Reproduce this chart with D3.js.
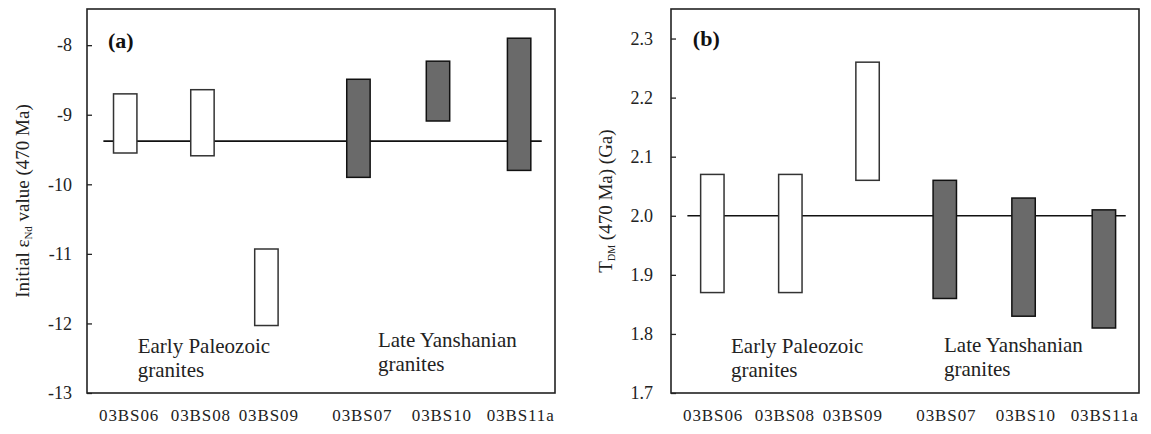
<!DOCTYPE html>
<html>
<head>
<meta charset="utf-8">
<script src="https://cdn.jsdelivr.net/npm/d3@7/dist/d3.min.js"></script>
<style>
  body { margin: 0; background: #fff; }
  svg { display: block; }
  .tick line { stroke: #222; stroke-width: 1.3; }
</style>
</head>
<body>
<div id="chart"></div>
<script>
// sample names and where their labels sit (in sample slots)
const samples = ["03BS06", "03BS08", "03BS09", "03BS07", "03BS10", "03BS11a"];
const groups = ["early", "early", "early", "late", "late", "late"];
const labelPos = [0.54, 1.46, 2.33, 3.53, 4.55, 5.56];

// (a) initial eps Nd at 470 Ma
const epsPos = [0.49, 1.48, 2.30, 3.48, 4.50, 5.54];
const epsHigh = [-8.70, -8.64, -10.93, -8.49, -8.23, -7.90];
const epsLow = [-9.55, -9.59, -12.03, -9.90, -9.09, -9.80];
const epsRef = -9.38;
const epsTicks = [-8, -9, -10, -11, -12, -13];

// (b) T_DM (470 Ma)
const tdmPos = [0.53, 1.53, 2.52, 3.51, 4.52, 5.55];
const tdmHigh = [2.07, 2.07, 2.26, 2.06, 2.03, 2.01];
const tdmLow = [1.87, 1.87, 2.06, 1.86, 1.83, 1.81];
const tdmRef = 2.0;
const tdmTicks = [2.3, 2.2, 2.1, 2.0, 1.9, 1.8, 1.7];

const W = 1151, H = 434;
const SERIF = "'Liberation Serif', 'Times New Roman', serif";

const svg = d3.select("#chart").append("svg")
  .attr("xmlns", "http://www.w3.org/2000/svg")
  .attr("width", W)
  .attr("height", H)
  .attr("font-family", SERIF);

function drawPanel(cfg) {
  const { left, top = 9, width = 468, height = 384 } = cfg;

  const x = d3.scaleLinear().domain([0, 6]).range([0, width]);
  const y = d3.scaleLinear().domain(cfg.domain).range([height, 0]);

  const g = svg.append("g").attr("transform", `translate(${left},${top})`);

  // y axis, ticks pointing inward
  const axis = d3.axisLeft(y)
    .tickValues(cfg.ticks)
    .tickFormat(cfg.format)
    .tickSizeInner(-5)
    .tickSizeOuter(0)
    .tickPadding(cfg.pad);
  g.append("g").attr("class", "y-axis").call(axis)
    .attr("font-family", SERIF)
    .attr("font-size", 18)
    .call(s => s.select(".domain").remove())
    .call(s => s.selectAll(".tick text").attr("fill", "#222"));

  // reference line
  g.append("line")
    .attr("x1", x(0.21)).attr("x2", x(5.83))
    .attr("y1", y(cfg.ref)).attr("y2", y(cfg.ref))
    .attr("stroke", "#111").attr("stroke-width", 1.6);

  // range bars
  const bw = x(0.3) - x(0);
  g.selectAll(".bar")
    .data(samples.map((s, i) => ({ s, pos: cfg.pos[i], hi: cfg.high[i], lo: cfg.low[i], grp: groups[i] })))
    .enter()
    .append("rect")
    .attr("class", "bar")
    .attr("x", d => x(d.pos) - bw / 2)
    .attr("width", bw)
    .attr("y", d => y(d.hi))
    .attr("height", d => y(d.lo) - y(d.hi))
    .attr("fill", d => d.grp === "late" ? "#6a6a6a" : "#fff")
    .attr("stroke", d => d.grp === "late" ? "#111" : "#333")
    .attr("stroke-width", 1.5);

  // frame
  g.append("rect")
    .attr("width", width).attr("height", height)
    .attr("fill", "none").attr("stroke", "#222").attr("stroke-width", 1.6);

  // panel letter
  g.append("text")
    .attr("x", x(cfg.letterX)).attr("y", cfg.letterY)
    .attr("font-size", 22).attr("font-weight", "bold").attr("fill", "#111")
    .text(cfg.letter);

  // group notes
  cfg.notes.forEach(n => {
    const t = g.append("text")
      .attr("x", x(n.x)).attr("y", n.y)
      .attr("font-size", 21).attr("fill", "#222");
    n.lines.forEach((line, i) => {
      t.append("tspan").attr("x", x(n.x)).attr("dy", i === 0 ? 0 : 24).text(line);
    });
  });

  // sample labels under the frame
  g.selectAll(".sample")
    .data(samples)
    .enter()
    .append("text")
    .attr("class", "sample")
    .attr("x", (d, i) => x(labelPos[i]))
    .attr("y", height + 28)
    .attr("text-anchor", "middle")
    .attr("font-size", 17)
    .attr("letter-spacing", 0.9)
    .attr("fill", "#222")
    .text(d => d);

  // axis title, rotated
  const title = g.append("text")
    .attr("transform", `translate(${cfg.titleX},${height / 2}) rotate(-90)`)
    .attr("text-anchor", "middle")
    .attr("font-size", 19)
    .attr("fill", "#222");
  cfg.title(title);
}

drawPanel({
  left: 87,
  domain: [-13, -7.48],
  ticks: epsTicks,
  format: d => String(d),
  pad: 15,
  ref: epsRef,
  pos: epsPos, high: epsHigh, low: epsLow,
  letter: "(a)", letterX: 0.27, letterY: 39,
  notes: [
    { x: 0.65, y: 344, lines: ["Early Paleozoic", "granites"] },
    { x: 3.73, y: 338, lines: ["Late Yanshanian", "granites"] }
  ],
  titleX: -58,
  title: t => {
    t.append("tspan").text("Initial ε");
    t.append("tspan").attr("font-size", 11).attr("dy", 3).text("Nd");
    t.append("tspan").attr("dy", -3).text(" value (470 Ma)");
  }
});

drawPanel({
  left: 671,
  domain: [1.7, 2.35],
  ticks: tdmTicks,
  format: d3.format(".1f"),
  pad: 18,
  ref: tdmRef,
  pos: tdmPos, high: tdmHigh, low: tdmLow,
  letter: "(b)", letterX: 0.28, letterY: 37,
  notes: [
    { x: 0.77, y: 344, lines: ["Early Paleozoic", "granites"] },
    { x: 3.5, y: 343, lines: ["Late Yanshanian", "granites"] }
  ],
  titleX: -59,
  title: t => {
    t.append("tspan").text("T");
    t.append("tspan").attr("font-size", 10).attr("dy", 3).text("DM");
    t.append("tspan").attr("dy", -3).text(" (470 Ma) (Ga)");
  }
});
</script>
</body>
</html>
